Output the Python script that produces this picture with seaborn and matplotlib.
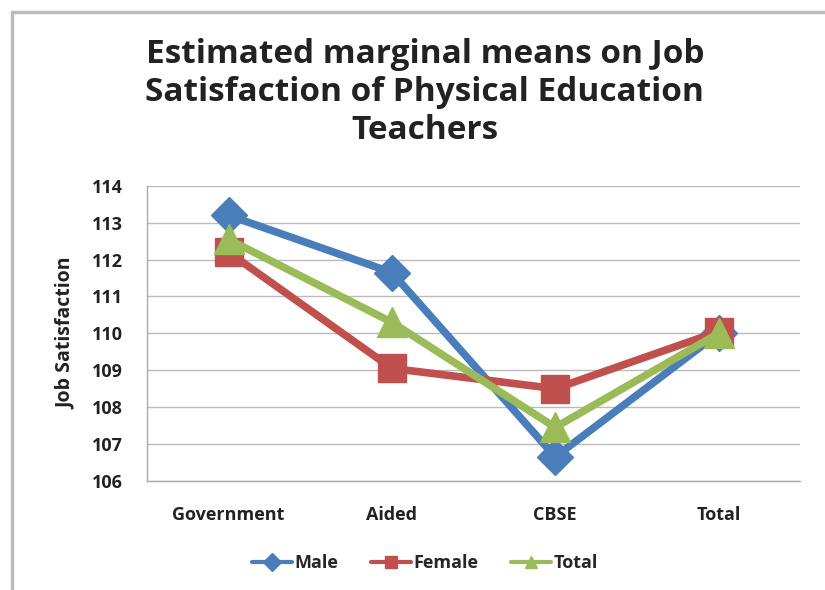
import matplotlib
matplotlib.use("Agg")
import matplotlib.pyplot as plt
import seaborn as sns
import pandas as pd
from matplotlib.lines import Line2D

categories = ["Government", "Aided", "CBSE", "Total"]
male = [113.2, 111.65, 106.65, 110.0]
female = [112.2, 109.05, 108.5, 110.05]
total = [112.55, 110.3, 107.45, 110.0]
series_names = ["Male", "Female", "Total"]

rows = []
for name, vals in zip(series_names, [male, female, total]):
    for i, (c, v) in enumerate(zip(categories, vals)):
        rows.append({"pos": i, "School": c, "Series": name, "Value": v})
df = pd.DataFrame(rows)

sns.set_theme(style="white")
plt.rcParams['font.family'] = ['Open Sans', 'DejaVu Sans']

fig = plt.figure(figsize=(8.25, 5.9), dpi=100)
ax = fig.add_axes([0.178, 0.185, 0.792, 0.5])

palette = {"Male": "#4A7EBB", "Female": "#C0504D", "Total": "#9BBB59"}
markers = {"Male": "D", "Female": "s", "Total": "^"}
sizes = {"Male": 18, "Female": 20, "Total": 21}

for name in series_names:
    sub = df[df["Series"] == name]
    sns.lineplot(data=sub, x="pos", y="Value", ax=ax, color=palette[name],
                 marker=markers[name], sort=False, label=name, legend=False)
    line = ax.lines[-1]
    line.set_linewidth(5.5)
    line.set_markersize(sizes[name])
    line.set_markeredgecolor(palette[name])
    line.set_markerfacecolor(palette[name])
    line.set_markeredgewidth(1)

ax.set_xlim(-0.5, 3.5)
ax.set_ylim(106, 114)
ax.set_yticks(range(106, 115))
ax.set_yticklabels([str(v) for v in range(106, 115)], fontsize=13, fontweight='bold', color='#222222')
ax.set_xticks(range(4))
ax.set_xticklabels(categories, fontsize=13, fontweight='bold', color='#222222')
ax.set_xticks([0.5, 1.5, 2.5], minor=True)
ax.tick_params(axis='x', which='major', length=0, pad=18)
ax.tick_params(axis='x', which='minor', length=5, color='#999999', direction='out')
ax.tick_params(axis='y', length=5, color='#999999', direction='out', pad=12)
ax.grid(axis='y', color='#bbbbbb', linewidth=1)
ax.set_axisbelow(True)
for s in ['top', 'right']:
    ax.spines[s].set_visible(False)
for s in ['left', 'bottom']:
    ax.spines[s].set_color('#aaaaaa')
    ax.spines[s].set_linewidth(1)
ax.set_xlabel("")
ax.set_ylabel("Job Satisfaction", fontsize=14, fontweight='bold', color='#222222', labelpad=12)

fig.text(0.515, 0.935, "Estimated marginal means on Job\nSatisfaction of Physical Education\nTeachers",
         ha='center', va='top', fontsize=24, fontweight='bold', color='#222222', linespacing=1.2)

handles = [Line2D([], [], color=palette[n], marker=markers[n], markersize=9, linewidth=3)
           for n in series_names]
leg = fig.legend(handles, series_names, loc='center', bbox_to_anchor=(0.515, 0.045), ncol=3,
                 frameon=False, prop={'weight': 'bold', 'size': 13}, handlelength=2.2,
                 columnspacing=1.8, handletextpad=0.15)

fig.add_artist(Line2D([12/825, 1], [1 - 12/590, 1 - 12/590], transform=fig.transFigure,
                      color='#bbbbbb', linewidth=2.5))
fig.add_artist(Line2D([12/825, 12/825], [0, 1 - 12/590], transform=fig.transFigure,
                      color='#bbbbbb', linewidth=2.5))

fig.savefig("out.png", dpi=100)
